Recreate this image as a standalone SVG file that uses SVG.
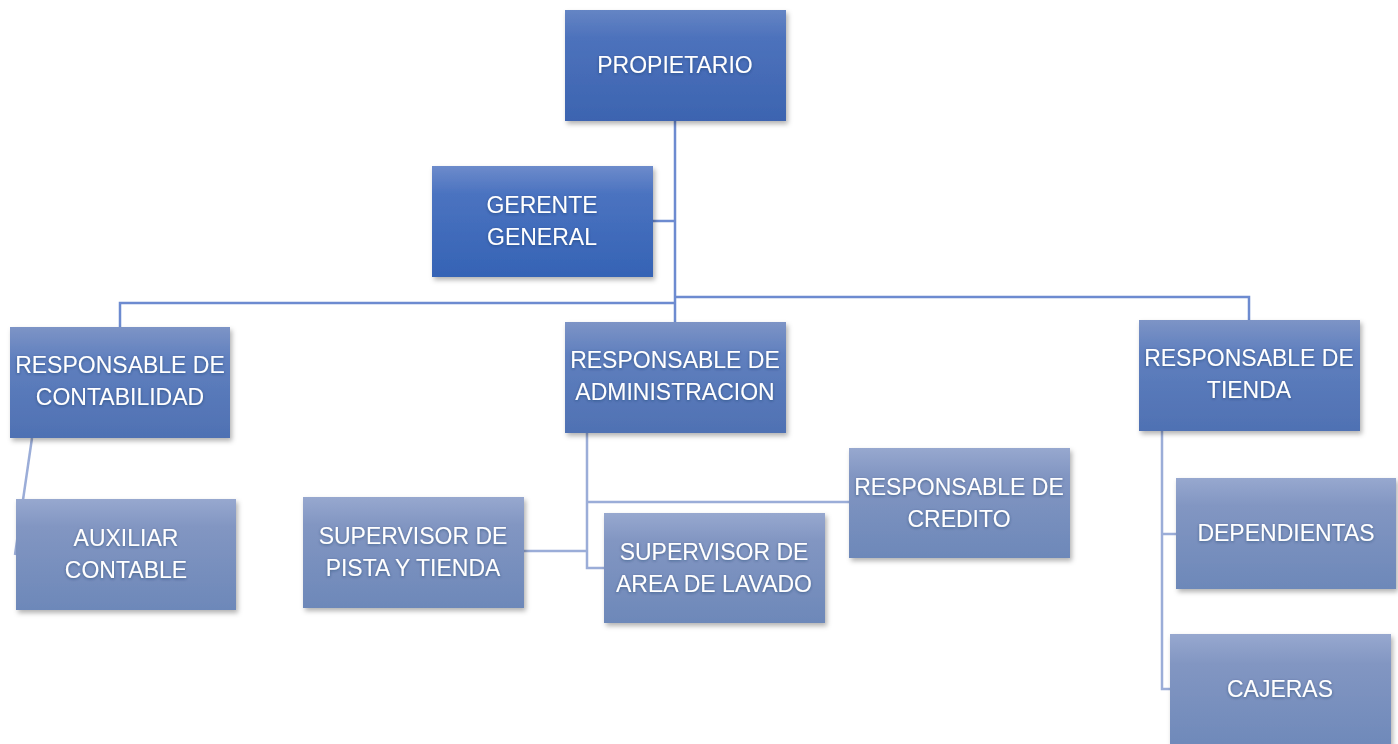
<svg xmlns="http://www.w3.org/2000/svg" width="1398" height="744" viewBox="0 0 1398 744">
<style>
.t{font-family:"Liberation Sans",Arial,sans-serif;font-size:23px;fill:#ffffff;text-anchor:middle}
.c1{fill:none;stroke:#6d8bd0;stroke-width:2.5}
.c2{fill:none;stroke:#9badd8;stroke-width:2.5}
</style>
<defs>
<linearGradient id="g1" x1="0" y1="0" x2="0" y2="1">
<stop offset="0" stop-color="#6585c4"/><stop offset="0.25" stop-color="#4d72bc"/><stop offset="1" stop-color="#3c64b0"/>
</linearGradient>
<linearGradient id="g0" x1="0" y1="0" x2="0" y2="1">
<stop offset="0" stop-color="#6d8bcb"/><stop offset="0.25" stop-color="#4b73c0"/><stop offset="1" stop-color="#3563b5"/>
</linearGradient>
<linearGradient id="g2" x1="0" y1="0" x2="0" y2="1">
<stop offset="0" stop-color="#7d94c6"/><stop offset="0.3" stop-color="#5f7fbe"/><stop offset="1" stop-color="#4f71b3"/>
</linearGradient>
<linearGradient id="g3" x1="0" y1="0" x2="0" y2="1">
<stop offset="0" stop-color="#97a8cf"/><stop offset="0.25" stop-color="#8296c2"/><stop offset="1" stop-color="#6d88b9"/>
</linearGradient>
<filter id="sh" x="-10%" y="-10%" width="125%" height="130%">
<feDropShadow dx="2" dy="3" stdDeviation="2.5" flood-color="#000" flood-opacity="0.3"/>
</filter>
<filter id="ts" x="-5%" y="-20%" width="110%" height="140%">
<feDropShadow dx="0" dy="1" stdDeviation="1.5" flood-color="#1a2a50" flood-opacity="0.45"/>
</filter>
</defs>
<rect width="1398" height="744" fill="#ffffff"/>
<g id="connectors">
<path class="c1" d="M675 121 V322 M653 221 H675 M675 303 H120 V327 M675 297 H1249 V320"/>
<path class="c2" d="M32 438 L15 555"/>
<path class="c2" d="M587 433 V568 H604 M587 502 H849 M524 551 H587"/>
<path class="c2" d="M1162 431 V689 H1170 M1162 534 H1176"/>
</g>
<g id="propietario" filter="url(#sh)"><rect x="565" y="10" width="221" height="111" fill="url(#g1)"/><text class="t" x="675" y="73" filter="url(#ts)">PROPIETARIO</text></g>
<g id="gerente" filter="url(#sh)"><rect x="432" y="166" width="221" height="111" fill="url(#g0)"/><text class="t" filter="url(#ts)"><tspan x="542" y="213">GERENTE</tspan><tspan x="542" y="245">GENERAL</tspan></text></g>
<g id="contabilidad" filter="url(#sh)"><rect x="10" y="327" width="220" height="111" fill="url(#g2)"/><text class="t" filter="url(#ts)"><tspan x="120" y="373">RESPONSABLE DE</tspan><tspan x="120" y="405">CONTABILIDAD</tspan></text></g>
<g id="administracion" filter="url(#sh)"><rect x="565" y="322" width="221" height="111" fill="url(#g2)"/><text class="t" filter="url(#ts)"><tspan x="675" y="368">RESPONSABLE DE</tspan><tspan x="675" y="400">ADMINISTRACION</tspan></text></g>
<g id="tienda" filter="url(#sh)"><rect x="1139" y="320" width="221" height="111" fill="url(#g2)"/><text class="t" filter="url(#ts)"><tspan x="1249" y="366">RESPONSABLE DE</tspan><tspan x="1249" y="398">TIENDA</tspan></text></g>
<g id="auxiliar" filter="url(#sh)"><rect x="16" y="499" width="220" height="111" fill="url(#g3)"/><text class="t" filter="url(#ts)"><tspan x="126" y="546">AUXILIAR</tspan><tspan x="126" y="578">CONTABLE</tspan></text></g>
<g id="pista" filter="url(#sh)"><rect x="303" y="497" width="221" height="111" fill="url(#g3)"/><text class="t" filter="url(#ts)"><tspan x="413" y="544">SUPERVISOR DE</tspan><tspan x="413" y="576">PISTA Y TIENDA</tspan></text></g>
<g id="lavado" filter="url(#sh)"><rect x="604" y="513" width="221" height="110" fill="url(#g3)"/><text class="t" filter="url(#ts)"><tspan x="714" y="560">SUPERVISOR DE</tspan><tspan x="714" y="592">AREA DE LAVADO</tspan></text></g>
<g id="credito" filter="url(#sh)"><rect x="849" y="448" width="221" height="110" fill="url(#g3)"/><text class="t" filter="url(#ts)"><tspan x="959" y="495">RESPONSABLE DE</tspan><tspan x="959" y="527">CREDITO</tspan></text></g>
<g id="dependientas" filter="url(#sh)"><rect x="1176" y="478" width="220" height="111" fill="url(#g3)"/><text class="t" x="1286" y="541" filter="url(#ts)">DEPENDIENTAS</text></g>
<g id="cajeras" filter="url(#sh)"><rect x="1170" y="634" width="221" height="120" fill="url(#g3)"/><text class="t" x="1280" y="697" filter="url(#ts)">CAJERAS</text></g>
</svg>
